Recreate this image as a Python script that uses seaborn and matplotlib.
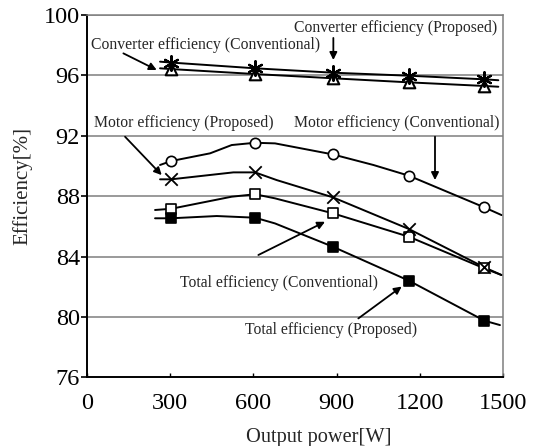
import matplotlib
matplotlib.use("Agg")
import matplotlib.pyplot as plt
import seaborn as sns
import pandas as pd

# Measured operating points (output power in W)
power = [304, 606, 886, 1160, 1432]

conv_eff_proposed = [96.85, 96.47, 96.18, 95.98, 95.74]      # asterisk
conv_eff_conventional = [96.42, 96.09, 95.81, 95.54, 95.30]  # triangle
motor_eff_conventional = [90.33, 91.54, 90.77, 89.36, 87.26]  # circle
motor_eff_proposed = [89.12, 89.58, 87.93, 85.83, 83.29]      # cross
total_eff_conventional = [87.17, 88.13, 86.87, 85.32, 83.22]  # open square
total_eff_proposed = [86.54, 86.58, 84.66, 82.41, 79.76]      # filled square

# Hand-drawn trend curves (vertices of each curve)
conv_prop_line_x = [264, 304, 606, 886, 1160, 1432, 1482]
conv_prop_line_y = [96.91, 96.85, 96.47, 96.18, 95.98, 95.74, 95.68]
conv_conv_line_x = [264, 304, 606, 886, 1160, 1432, 1482]
conv_conv_line_y = [96.47, 96.42, 96.09, 95.81, 95.54, 95.30, 95.25]
motor_conv_line_x = [264, 304, 444, 522, 606, 678, 886, 1032, 1160, 1432, 1494]
motor_conv_line_y = [90.07, 90.33, 90.84, 91.39, 91.54, 91.50, 90.77, 90.07, 89.36, 87.26, 86.75]
motor_prop_line_x = [264, 304, 528, 606, 684, 886, 1160, 1432, 1494]
motor_prop_line_y = [89.12, 89.12, 89.58, 89.58, 89.07, 87.93, 85.83, 83.29, 82.78]
total_conv_line_x = [246, 304, 522, 606, 678, 886, 1160, 1432, 1494]
total_conv_line_y = [87.09, 87.17, 87.97, 88.13, 87.86, 86.87, 85.32, 83.22, 82.78]
total_prop_line_x = [246, 304, 468, 606, 678, 886, 1160, 1432, 1488]
total_prop_line_y = [86.54, 86.54, 86.69, 86.58, 86.20, 84.66, 82.41, 79.76, 79.47]

x_ticks = [0, 300, 600, 900, 1200, 1500]
y_ticks = [76, 80, 84, 88, 92, 96, 100]

sns.set_theme(style="white")
plt.rcParams["font.family"] = ["Liberation Serif", "DejaVu Serif"]

fig = plt.figure(figsize=(5.39, 4.46), dpi=100)
ax = fig.add_axes([0.1609, 0.1536, 0.7729, 0.8128])

# horizontal grid
for yv in y_ticks[1:]:
    ax.axhline(yv, color="#7f7f7f", lw=1.1, zorder=0)

curves = [
    (conv_prop_line_x, conv_prop_line_y),
    (conv_conv_line_x, conv_conv_line_y),
    (motor_conv_line_x, motor_conv_line_y),
    (motor_prop_line_x, motor_prop_line_y),
    (total_conv_line_x, total_conv_line_y),
    (total_prop_line_x, total_prop_line_y),
]
for cx, cy in curves:
    df = pd.DataFrame({"P": cx, "eff": cy})
    sns.lineplot(data=df, x="P", y="eff", ax=ax, color="black", lw=1.4,
                 sort=False, estimator=None, zorder=2)

def pts(y):
    return pd.DataFrame({"P": power, "eff": y})

sns.scatterplot(data=pts(conv_eff_proposed), x="P", y="eff", ax=ax, marker=(6, 2, 0),
                s=110, color="black", linewidth=1.6, zorder=4)
sns.scatterplot(data=pts(conv_eff_conventional), x="P", y="eff", ax=ax, marker="^",
                s=70, facecolor="white", edgecolor="black", linewidth=1.5, zorder=3)
sns.scatterplot(data=pts(motor_eff_conventional), x="P", y="eff", ax=ax, marker="o",
                s=55, facecolor="white", edgecolor="black", linewidth=1.2, zorder=3)
sns.scatterplot(data=pts(motor_eff_proposed), x="P", y="eff", ax=ax, marker="x",
                s=80, color="black", linewidth=1.3, zorder=4)
sns.scatterplot(data=pts(total_eff_conventional), x="P", y="eff", ax=ax, marker="s",
                s=60, facecolor="white", edgecolor="black", linewidth=1.2, zorder=3)
sns.scatterplot(data=pts(total_eff_proposed), x="P", y="eff", ax=ax, marker="s",
                s=60, facecolor="black", edgecolor="black", linewidth=1.2, zorder=3)

ax.set_xlim(0, 1500)
ax.set_ylim(76, 100)
ax.set_xticks(x_ticks)
ax.set_yticks(y_ticks)
ax.tick_params(axis="y", direction="out", length=4, width=1.2, pad=1,
               labelsize=17.5, colors="black", left=True)
ax.tick_params(axis="x", direction="in", length=3, width=1.0, pad=11,
               labelsize=17.5, colors="black", bottom=True)

for side in ("left", "bottom"):
    ax.spines[side].set_color("black")
    ax.spines[side].set_linewidth(1.4)
for side in ("top", "right"):
    ax.spines[side].set_color("#7f7f7f")
    ax.spines[side].set_linewidth(1.1)

ax.set_xlabel("Output power[W]", fontsize=14.7)
ax.set_ylabel("Efficiency[%]", fontsize=15)
ax.xaxis.set_label_coords(0.557, -0.14)
ax.yaxis.set_label_coords(-0.131, 0.528)

arrow = dict(arrowstyle="-|>", color="black", lw=1.3, mutation_scale=11,
             shrinkA=0, shrinkB=0)
fs = 11.3
ax.text(1113, 99.15, "Converter efficiency (Proposed)", ha="center", va="center", fontsize=fs)
ax.annotate("", xy=(888, 97.02), xytext=(888, 98.48), arrowprops=arrow)
ax.text(429, 98.03, "Converter efficiency (Conventional)", ha="center", va="center", fontsize=fs)
ax.annotate("", xy=(252, 96.36), xytext=(132, 97.46), arrowprops=arrow)
ax.text(348, 92.83, "Motor efficiency (Proposed)", ha="center", va="center", fontsize=fs)
ax.annotate("", xy=(270, 89.40), xytext=(138, 91.94), arrowprops=arrow)
ax.text(1117, 92.83, "Motor efficiency (Conventional)", ha="center", va="center", fontsize=fs)
ax.annotate("", xy=(1254, 89.07), xytext=(1254, 91.94), arrowprops=arrow)
ax.text(692, 82.23, "Total efficiency (Conventional)", ha="center", va="center", fontsize=fs)
ax.annotate("", xy=(858, 86.31), xytext=(618, 84.11), arrowprops=arrow)
ax.text(879, 79.13, "Total efficiency (Proposed)", ha="center", va="center", fontsize=fs)
ax.annotate("", xy=(1134, 82.02), xytext=(978, 79.91), arrowprops=arrow)

fig.savefig("out.png", dpi=100)
